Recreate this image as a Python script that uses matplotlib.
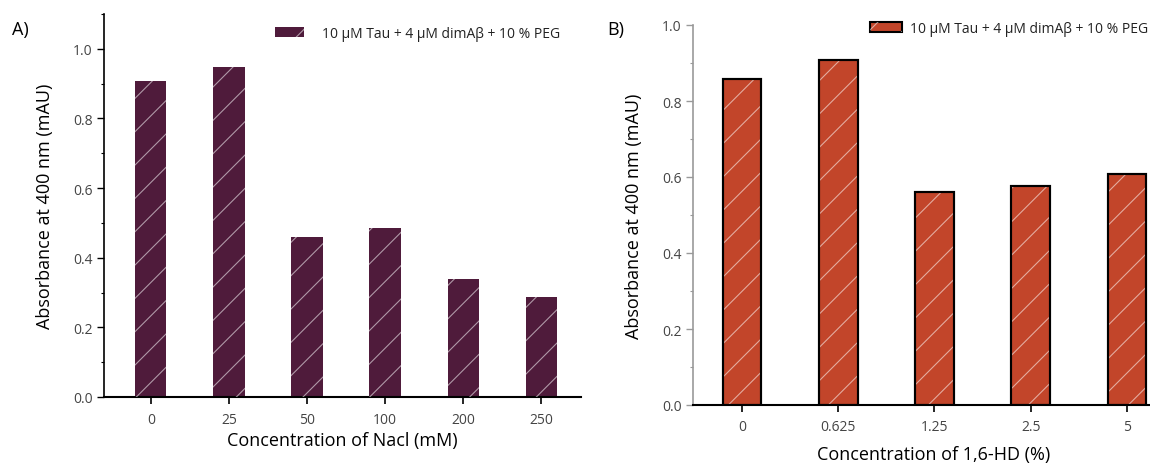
import matplotlib
matplotlib.use("Agg")
import matplotlib.pyplot as plt
from matplotlib.patches import Patch
from matplotlib.ticker import MultipleLocator

plt.rcParams['font.family'] = ['Open Sans', 'DejaVu Sans']
plt.rcParams['hatch.linewidth'] = 0.8

# panel A: NaCl series
nacl_labels = ['0', '25', '50', '100', '200', '250']
nacl_values = [0.907, 0.948, 0.459, 0.485, 0.340, 0.287]

# panel B: 1,6-hexanediol series
hd_labels = ['0', '0.625', '1.25', '2.5', '5']
hd_values = [0.858, 0.907, 0.561, 0.576, 0.607]

legend_text = '10 µM Tau + 4 µM dimAβ + 10 % PEG'
color_a = '#4f1b3b'
color_b = '#c2452a'
hatch_col = (1, 1, 1, 0.55)
tick_col = '#444444'

fig = plt.figure(figsize=(11.5, 4.64), dpi=100)
ax_a = fig.add_axes([104 / 1150, 66 / 464, 477 / 1150, 383 / 464])
ax_b = fig.add_axes([693 / 1150, 58 / 464, 482 / 1150, 380 / 464])


def draw_panel(ax, labels, values, color, edge, spine_col):
    x = range(len(labels))
    ax.bar(x, values, width=0.4, color=color,
           edgecolor=edge if edge else color, linewidth=1.5 if edge else 0, zorder=2)
    ax.bar(x, values, width=0.4, facecolor='none', edgecolor=hatch_col,
           hatch='/', linewidth=0, zorder=3)
    if edge:
        ax.bar(x, values, width=0.4, facecolor='none', edgecolor=edge,
               linewidth=1.5, zorder=4)
    ax.set_xticks(list(x))
    ax.set_xticklabels(labels)
    for s in ['top', 'right']:
        ax.spines[s].set_visible(False)
    ax.spines['bottom'].set_linewidth(1.5)
    ax.spines['left'].set_linewidth(1.2)
    ax.spines['left'].set_color(spine_col)
    ax.yaxis.set_major_locator(MultipleLocator(0.2))
    ax.yaxis.set_minor_locator(MultipleLocator(0.1))
    ax.yaxis.set_major_formatter(plt.FuncFormatter(lambda v, p: f'{v:.1f}'))
    ax.tick_params(axis='y', which='major', length=5, width=1, color=spine_col,
                   labelsize=10, labelcolor=tick_col, pad=3)
    ax.tick_params(axis='y', which='minor', length=2.5, width=0.8, color=spine_col)
    ax.tick_params(axis='x', length=5, width=1.2, color='black',
                   labelsize=10, labelcolor=tick_col)


draw_panel(ax_a, nacl_labels, nacl_values, color_a, None, 'black')
ax_a.tick_params(axis='x', pad=6)
ax_a.set_xlim(-0.60, 5.51)
ax_a.set_ylim(0, 1.1)
ax_a.set_ylabel('Absorbance at 400 nm (mAU)', fontsize=13, labelpad=14)
ax_a.set_xlabel('Concentration of Nacl (mM)', fontsize=13, labelpad=3)

draw_panel(ax_b, hd_labels, hd_values, color_b, 'black', '#999999')
ax_b.tick_params(axis='x', pad=5)
ax_b.set_xlim(-0.51, 4.5)
ax_b.set_ylim(0, 1.0)
ax_b.set_ylabel('Absorbance at 400 nm (mAU)', fontsize=13, labelpad=14)
ax_b.set_xlabel('Concentration of 1,6-HD (%)', fontsize=13, labelpad=8)

# legends with hatched handles
h_a = (Patch(facecolor=color_a, edgecolor=color_a, linewidth=0),
       Patch(facecolor='none', edgecolor=hatch_col, hatch='/', linewidth=0))
fig.legend([h_a], [legend_text], loc='upper left',
           bbox_to_anchor=(268 / 1150, 1 - 20 / 464), frameon=False, borderpad=0,
           fontsize=10, handlelength=2.1, handleheight=0.7, handletextpad=1.3,
           labelcolor='#222222')

h_b = (Patch(facecolor=color_b, edgecolor='black', linewidth=1.5),
       Patch(facecolor='none', edgecolor=hatch_col, hatch='/', linewidth=0))
fig.legend([h_b], [legend_text], loc='upper left',
           bbox_to_anchor=(863 / 1150, 1 - 15 / 464), frameon=False, borderpad=0,
           fontsize=10, handlelength=2.3, handleheight=0.8, handletextpad=0.55,
           labelcolor='#222222')

fig.text(12 / 1150, 1 - 30 / 464, 'A)', fontsize=13, va='center', ha='left')
fig.text(607 / 1150, 1 - 30 / 464, 'B)', fontsize=13, va='center', ha='left')

fig.savefig('out.png', dpi=100)
